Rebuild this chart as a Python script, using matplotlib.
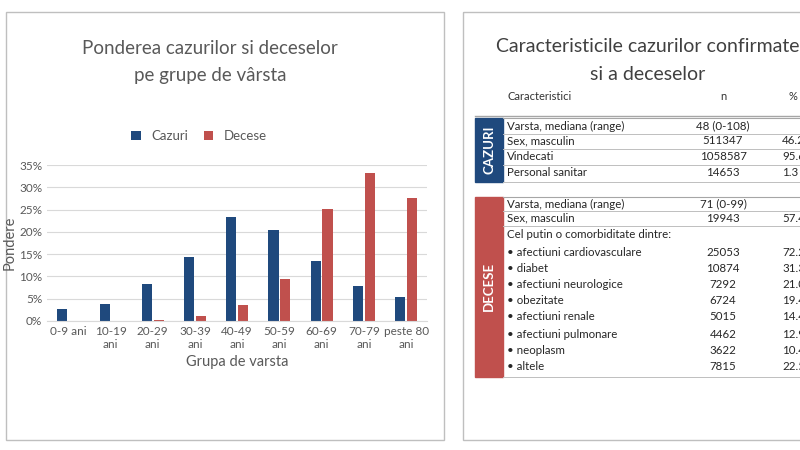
import numpy as np
import matplotlib
matplotlib.use("Agg")
import matplotlib.pyplot as plt
from matplotlib.patches import Rectangle

plt.rcParams["font.family"] = "Lato"

# chart data
groups = ["0-9 ani", "10-19\nani", "20-29\nani", "30-39\nani", "40-49\nani",
          "50-59\nani", "60-69\nani", "70-79\nani", "peste 80\nani"]
cazuri = [2.7, 3.7, 8.2, 14.3, 23.3, 20.5, 13.5, 7.8, 5.4]
decese = [0.0, 0.05, 0.2, 1.0, 3.5, 9.3, 25.2, 33.2, 27.7]

# table data
caz_labels = ["Varsta, mediana (range)", "Sex, masculin", "Vindecati", "Personal sanitar"]
caz_n = ["48 (0-108)", "511347", "1058587", "14653"]
caz_pct = ["", "46.2", "95.6", "1.3"]
dec_labels = ["Varsta, mediana (range)", "Sex, masculin", "Cel putin o comorbiditate dintre:",
              "• afectiuni cardiovasculare", "• diabet", "• afectiuni neurologice",
              "• obezitate", "• afectiuni renale", "• afectiuni pulmonare",
              "• neoplasm", "• altele"]
dec_n = ["71 (0-99)", "19943", "", "25053", "10874", "7292", "6724", "5015",
         "4462", "3622", "7815"]
dec_pct = ["", "57.4", "", "72.2", "31.3", "21.0", "19.4", "14.4", "12.9", "10.4", "22.5"]

BLUE = "#1F497D"
RED = "#C0504D"
GREY = "#595959"

fig = plt.figure(figsize=(8, 4.5), dpi=100)
bg = fig.add_axes([0, 0, 1, 1])
bg.set_xlim(0, 800)
bg.set_ylim(450, 0)
bg.axis("off")

# panel borders
bg.add_patch(Rectangle((6, 12), 438, 428, fill=False, ec="#bfbfbf", lw=1))
bg.add_patch(Rectangle((463, 12), 345, 428, fill=False, ec="#bfbfbf", lw=1, clip_on=False))

# left chart
bg.text(210, 48, "Ponderea cazurilor si deceselor", ha="center", va="center",
        fontsize=13.5, color=GREY)
bg.text(210, 75, "pe grupe de vârsta", ha="center", va="center", fontsize=13.5, color=GREY)

ax = fig.add_axes([0.059, 0.287, 0.475, 0.346])
x = np.arange(len(groups))
w = 0.24
ax.bar(x - 0.14, cazuri, w, color=BLUE, label="Cazuri")
ax.bar(x + 0.14, decese, w, color=RED, label="Decese")
ax.set_ylim(0, 35)
ax.set_xlim(-0.5, len(groups) - 0.5)
ax.set_yticks(range(0, 36, 5))
ax.set_yticklabels([f"{v}%" for v in range(0, 36, 5)], fontsize=8.5, color=GREY)
ax.set_xticks(x)
ax.set_xticklabels(groups, fontsize=8.5, color=GREY)
ax.grid(axis="y", color="#d9d9d9", lw=0.8)
ax.set_axisbelow(True)
for s in ["top", "right", "left"]:
    ax.spines[s].set_visible(False)
ax.spines["bottom"].set_color("#d9d9d9")
ax.tick_params(length=0)
ax.set_xlabel("Grupa de varsta", fontsize=10.5, color=GREY)
ax.set_ylabel("Pondere", fontsize=10.5, color=GREY, labelpad=2)
ax.legend(loc="lower center", bbox_to_anchor=(0.4, 1.07), ncol=2, frameon=False,
          fontsize=9.5, handlelength=0.7, handleheight=0.7, labelcolor=GREY,
          columnspacing=1.2)

# right table
bg.text(648, 47, "Caracteristicile cazurilor confirmate", ha="center", va="center",
        fontsize=14, color="#404040", clip_on=False)
bg.text(648, 75, "si a deceselor", ha="center", va="center", fontsize=14, color="#404040")
bg.text(507, 97, "Caracteristici", va="center", fontsize=8, color="#333333")
bg.text(723, 97, "n", ha="center", va="center", fontsize=8, color="#333333")
bg.text(793, 97, "%", ha="center", va="center", fontsize=8, color="#333333")
bg.plot([475, 800], [116, 116], color="#a6a6a6", lw=1)


def block(y0, ys, labels, ns, pcts, color, name):
    y1 = ys[-1] + (ys[-1] - ys[-2]) / 2 + 1
    bg.add_patch(Rectangle((475, y0), 28, y1 - y0, color=color))
    bg.text(489, (y0 + y1) / 2, name, rotation=90, ha="center", va="center",
            color="white", fontsize=9.5, fontweight="bold")
    bg.plot([503, 800], [y0, y0], color="#a6a6a6", lw=0.8)
    for i, yy in enumerate(ys):
        bg.text(507, yy, labels[i], va="center", fontsize=8.3, color="#262626")
        bg.text(723, yy, ns[i], ha="center", va="center", fontsize=8.3, color="#262626")
        bg.text(782, yy, pcts[i], ha="left", va="center", fontsize=8.3,
                color="#262626", clip_on=False)
    return y1


caz_y = [126, 141, 157, 173]
yb = block(118, caz_y, caz_labels, caz_n, caz_pct, BLUE, "CAZURI")
for yy in [134, 149, 165, yb]:
    bg.plot([503, 800], [yy, yy], color="#bfbfbf", lw=0.7)

dec_y = [204, 218, 235, 252, 268, 284, 301, 317, 334, 350, 367]
yb = block(197, dec_y, dec_labels, dec_n, dec_pct, RED, "DECESE")
for yy in [211, 226, yb]:
    bg.plot([503, 800], [yy, yy], color="#bfbfbf", lw=0.7)

fig.savefig("out.png", dpi=100)
